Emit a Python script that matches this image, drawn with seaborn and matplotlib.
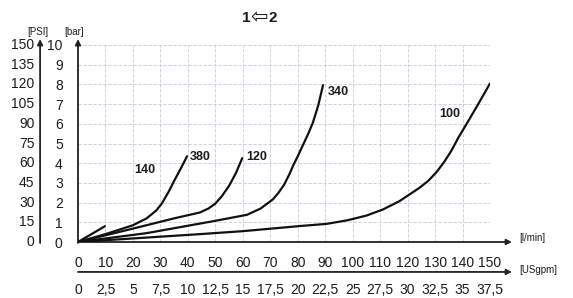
import matplotlib
matplotlib.use("Agg")
import matplotlib.pyplot as plt
import seaborn as sns
import pandas as pd

# ---- data (flow l/min, pressure bar) ----
c140_x = [0, 9.8]
c140_y = [0, 0.8]
c380_x = [0, 10, 20, 25, 28.5, 30.5, 33, 35, 37.5, 39.7]
c380_y = [0, 0.4, 0.85, 1.2, 1.6, 1.95, 2.55, 3.1, 3.75, 4.35]
c120_x = [0, 20, 35, 44.4, 47.5, 50, 52.5, 55, 57.5, 59.8]
c120_y = [0, 0.68, 1.2, 1.5, 1.7, 1.95, 2.35, 2.85, 3.5, 4.26]
c340_x = [0, 25, 49, 61.5, 66.5, 71, 73, 75, 77, 78.3, 80, 82, 84, 85.5, 87.5, 89.2]
c340_y = [0, 0.45, 1.05, 1.38, 1.7, 2.17, 2.5, 2.9, 3.45, 3.87, 4.35, 4.95, 5.55, 6.05, 6.95, 7.96]
c100_x = [0, 20, 44.4, 60, 80.8, 90.5, 98, 105, 111, 117, 124, 127.5, 130.6, 133.5,
          136, 138.5, 141.5, 145.5, 150]
c100_y = [0, 0.18, 0.40, 0.55, 0.81, 0.92, 1.1, 1.34, 1.65, 2.07, 2.72, 3.1, 3.56, 4.1,
          4.65, 5.3, 6.0, 6.95, 8.05]

curve_names = ["140", "380", "120", "340", "100"]
label_x = [24.4, 44.4, 65.2, 94.6, 135.4]
label_y = [3.65, 4.3, 4.3, 7.6, 6.5]

bar_ticks = list(range(0, 11))
psi_labels = ["0", "15", "30", "45", "60", "75", "90", "105", "120", "135", "150"]
lpm_ticks = list(range(0, 151, 10))
usgpm_labels = ["0", "2,5", "5", "7,5", "10", "12,5", "15", "17,5", "20",
                "22,5", "25", "27,5", "30", "32,5", "35", "37,5"]

sns.set_theme(style="white")
plt.rcParams["font.family"] = ["Liberation Sans", "DejaVu Sans"]
TXT = "#1c1c1c"

fig = plt.figure(figsize=(5.73, 2.98), dpi=100)
ax = fig.add_axes([78 / 573, 56 / 298, 412 / 573, 197 / 298])

frames = []
for name, xs, ys in [("140", c140_x, c140_y), ("380", c380_x, c380_y),
                     ("120", c120_x, c120_y), ("340", c340_x, c340_y),
                     ("100", c100_x, c100_y)]:
    frames.append(pd.DataFrame({"flow": xs, "bar": ys, "curve": name}))
df = pd.concat(frames, ignore_index=True)

for name in curve_names:
    sub = df[df["curve"] == name]
    sns.lineplot(data=sub, x="flow", y="bar", color="#111111", lw=1.6,
                 estimator=None, sort=True, ax=ax, zorder=5)
for ln in ax.lines:
    ln.set_solid_joinstyle("round")
    ln.set_solid_capstyle("round")

for name, lx, ly in zip(curve_names, label_x, label_y):
    ax.text(lx, ly, name, fontsize=9, fontweight="bold", color=TXT,
            ha="center", va="center")

ax.set_xlim(0, 150)
ax.set_ylim(0, 10)
ax.set_xticks(lpm_ticks)
ax.set_xticklabels([str(v) for v in lpm_ticks], fontsize=10, color=TXT)
ax.set_yticks(bar_ticks)
ax.set_yticklabels([str(v) for v in bar_ticks], fontsize=10, color=TXT)
ax.tick_params(axis="x", length=0, pad=10)
ax.tick_params(axis="y", length=0, pad=11)
ax.set_xlabel("")
ax.set_ylabel("")
ax.grid(True, color="#cbc8d8", lw=0.6, ls=(0, (4, 2)))
for s in ax.spines.values():
    s.set_visible(False)

arrow = dict(arrowstyle="-|>", color="#222222", lw=1.3, mutation_scale=8,
             shrinkA=0, shrinkB=0)
ax.annotate("", xy=(0, 10.3), xytext=(0, -0.05), arrowprops=arrow, annotation_clip=False)
ax.annotate("", xy=(-13.8, 10.3), xytext=(-13.8, -0.05), arrowprops=arrow, annotation_clip=False)
ax.annotate("", xy=(158, 0), xytext=(0, 0), arrowprops=arrow, annotation_clip=False)
ax.annotate("", xy=(158, -1.52), xytext=(0, -1.52), arrowprops=arrow, annotation_clip=False)

for b, lab in zip(bar_ticks, psi_labels):
    ax.text(-15.8, b, lab, fontsize=10, color=TXT, ha="right", va="center", clip_on=False)
for x, lab in zip(lpm_ticks, usgpm_labels):
    ax.text(x, -2.45, lab, fontsize=10, color=TXT, ha="center", va="center", clip_on=False)

ax.text(-14.6, 10.68, "[PSI]", fontsize=7, color=TXT, ha="center", va="center", clip_on=False)
ax.text(-1.6, 10.68, "[bar]", fontsize=7, color=TXT, ha="center", va="center", clip_on=False)
ax.text(160.5, 0.2, "[l/min]", fontsize=7, color=TXT, ha="left", va="center", clip_on=False)
ax.text(160.5, -1.4, "[USgpm]", fontsize=7, color=TXT, ha="left", va="center", clip_on=False)

ty = 1 - 18 / 298
fig.text(250.5 / 573, ty, "1", fontsize=11, fontweight="bold", color=TXT, ha="right", va="center")
fig.text(259.5 / 573, ty + 0.004, "⇦", fontsize=15, family=["DejaVu Sans"], color=TXT,
         ha="center", va="center")
fig.text(268.5 / 573, ty, "2", fontsize=11, fontweight="bold", color=TXT, ha="left", va="center")

fig.savefig("out.png", dpi=100)
